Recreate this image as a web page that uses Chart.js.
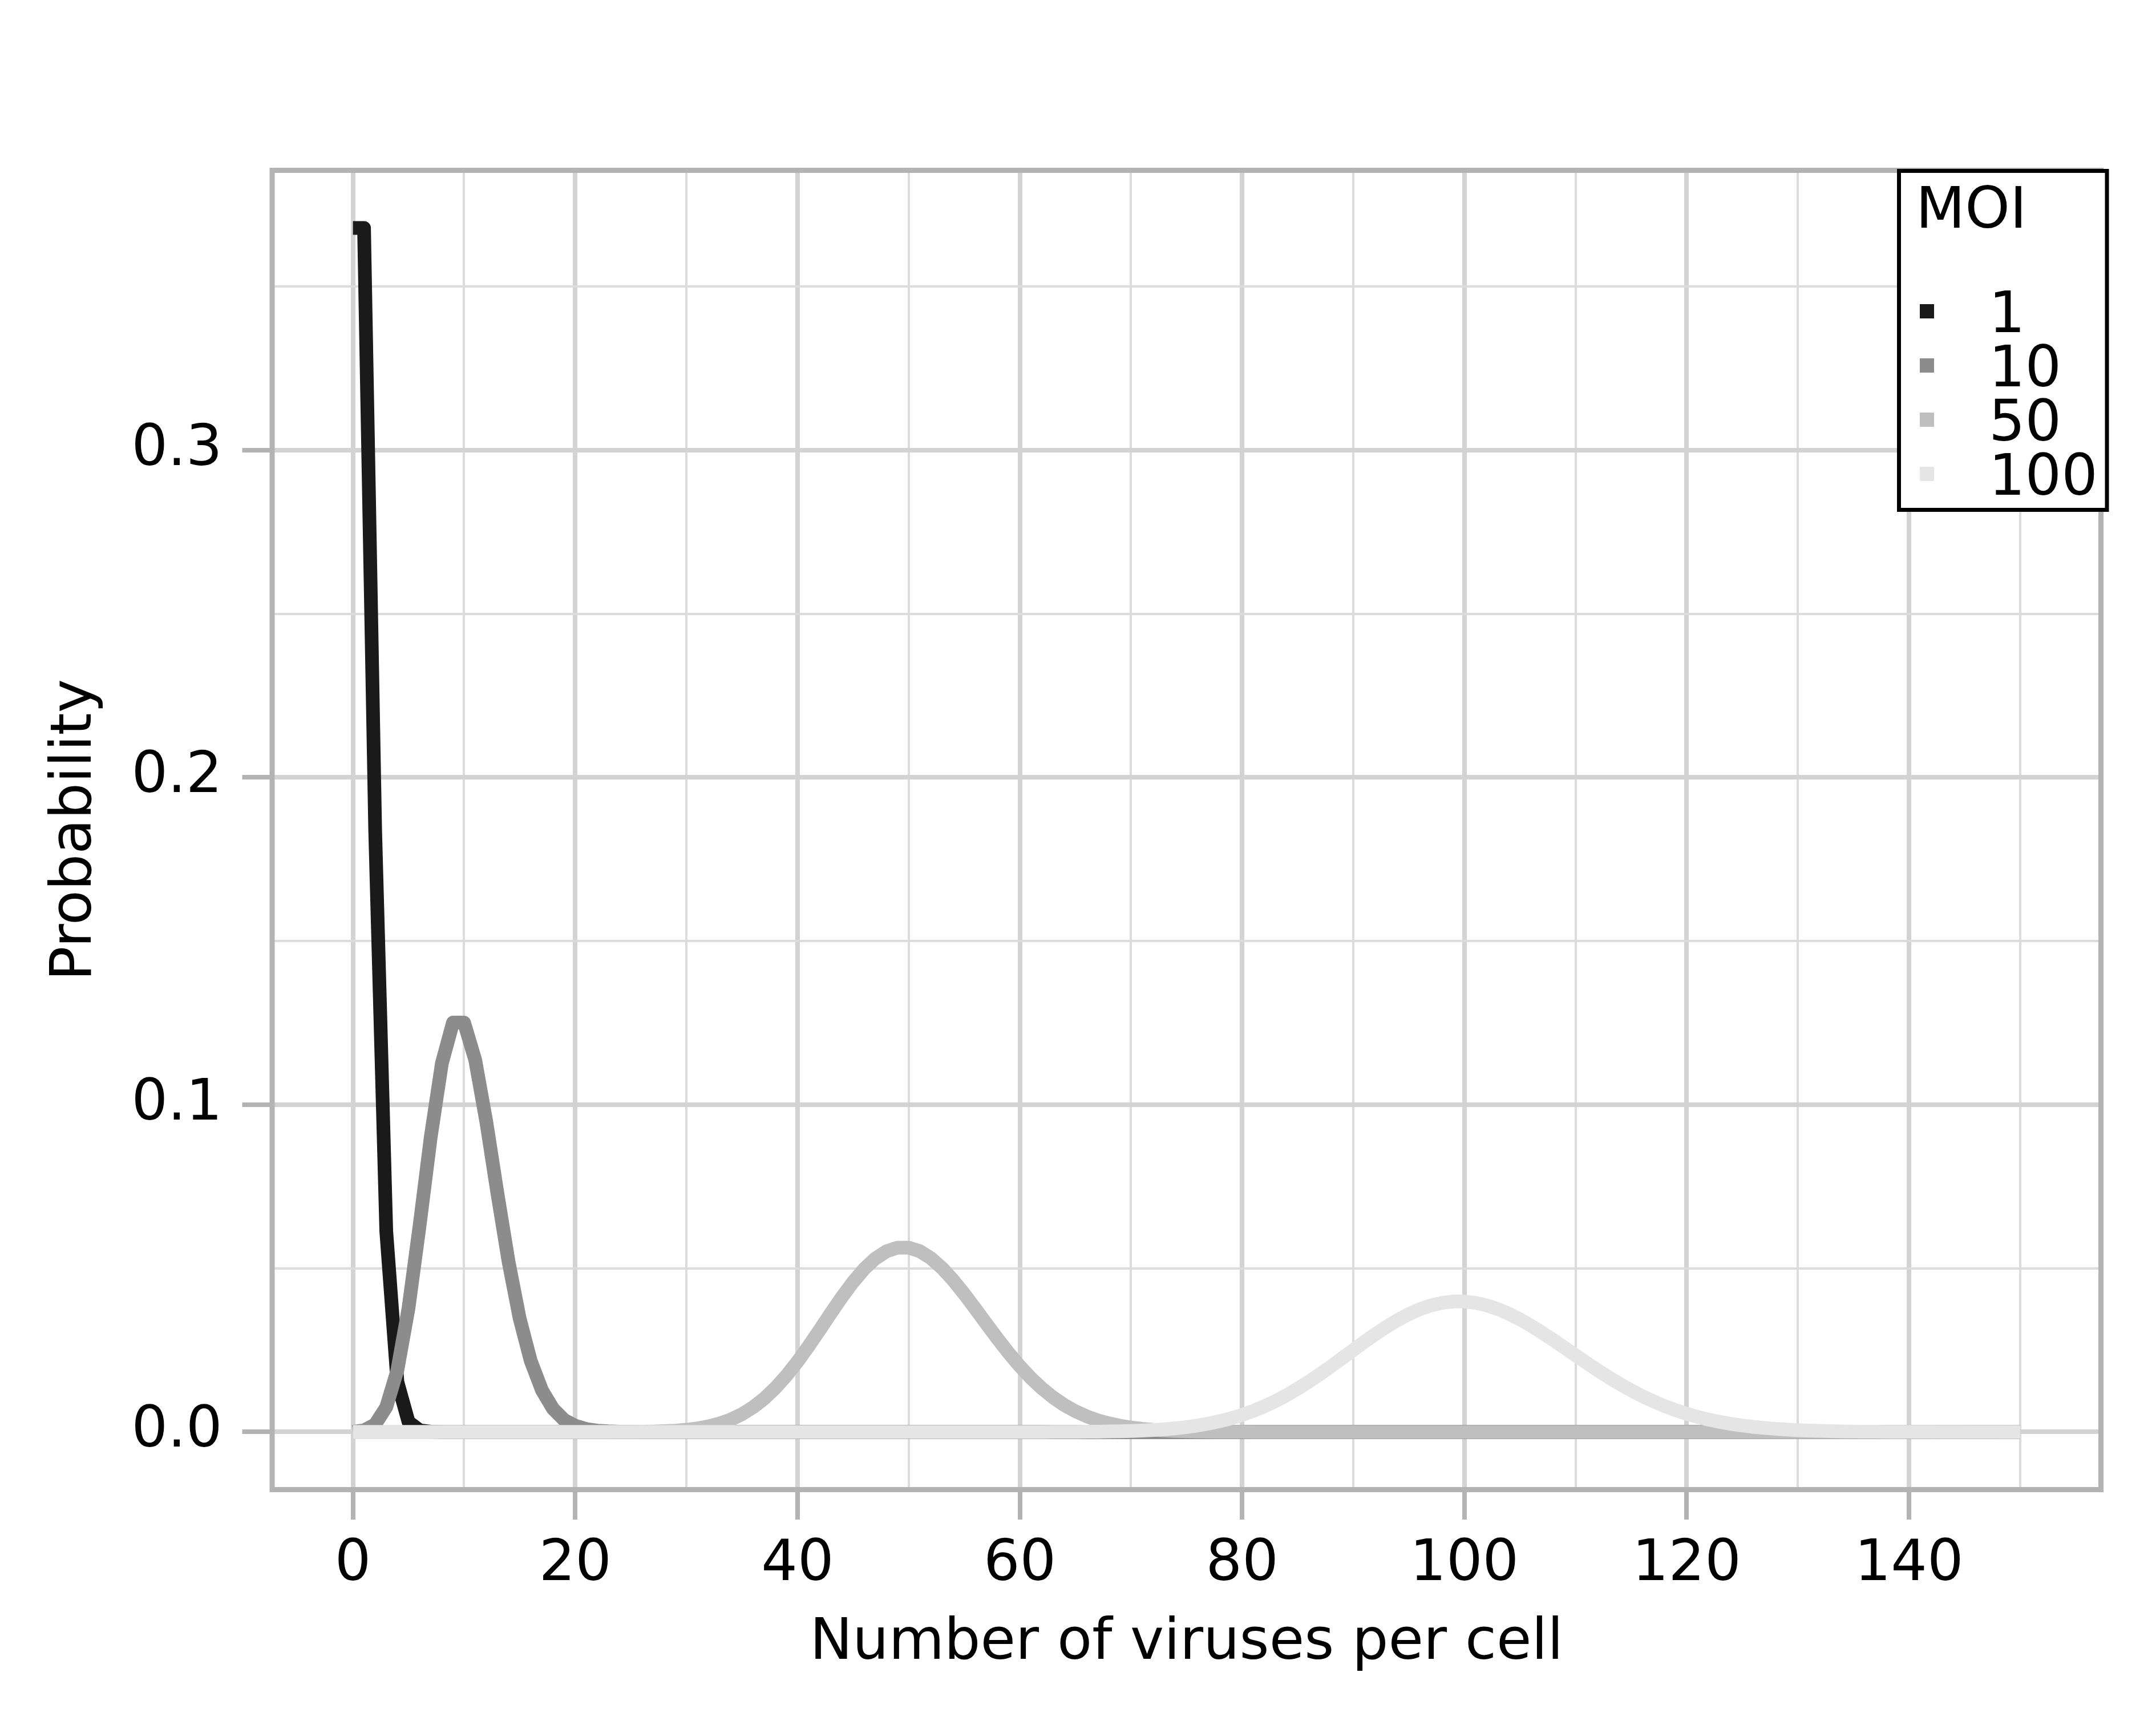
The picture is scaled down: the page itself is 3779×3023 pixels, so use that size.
<!DOCTYPE html>
<html>
<head>
<meta charset="utf-8">
<script src="https://cdn.jsdelivr.net/npm/chart.js@4.4.1/dist/chart.umd.min.js"></script>
<style>
  html, body { margin: 0; padding: 0; background: #ffffff; }
  #chart { display: block; }
</style>
</head>
<body>
<canvas id="chart" width="3779" height="3023"></canvas>
<script>
// MOI series (Poisson-like curves)
const moiLabels = ['1', '10', '50', '100'];
const moiColors = ['#1a1a1a', '#8c8c8c', '#bfbfbf', '#e5e5e5'];

const moi1X = [0, 1, 2, 3, 4, 5, 6, 7, 8, 150];
const moi1Y = [0.3679, 0.3679, 0.1839, 0.0613, 0.0153, 0.0031, 0.0005, 0.0001, 0, 0];

const moi10X = [0, 1, 2, 3, 4, 5, 6, 7, 8, 9, 10, 11, 12, 13, 14, 15, 16, 17, 18, 19, 20, 21, 22, 23, 24, 25, 150];
const moi10Y = [0.00005, 0.0005, 0.0023, 0.0076, 0.0189, 0.0378, 0.0631, 0.0901, 0.1126, 0.1251, 0.1251,
  0.1137, 0.0948, 0.0729, 0.0521, 0.0347, 0.0217, 0.0128, 0.0071, 0.0037, 0.0019,
  0.0009, 0.0004, 0.0002, 0.0001, 0, 0];

const moi50X = [0, 22, 23, 24, 25, 26, 27, 28, 29, 30, 31, 32, 33, 34, 35, 36, 37, 38, 39, 40,
  41, 42, 43, 44, 45, 46, 47, 48, 49, 50, 51, 52, 53, 54, 55, 56, 57, 58, 59, 60,
  61, 62, 63, 64, 65, 66, 67, 68, 69, 70, 71, 72, 73, 74, 75, 76, 77, 78, 79, 80, 81, 82, 150];
const moi50Y = [0, 0, 0.00001, 0.00002, 0.00004, 0.00007, 0.00013, 0.00024, 0.00041, 0.00068,
  0.00109, 0.00171, 0.00259, 0.00380, 0.00543, 0.00755, 0.01020, 0.01342, 0.01720, 0.02150,
  0.02622, 0.03122, 0.03630, 0.04125, 0.04583, 0.04981, 0.05299, 0.05520, 0.05633, 0.05633,
  0.05523, 0.05310, 0.05010, 0.04639, 0.04217, 0.03765, 0.03303, 0.02847, 0.02413, 0.02011,
  0.01648, 0.01329, 0.01055, 0.00824, 0.00634, 0.00480, 0.00358, 0.00264, 0.00191, 0.00136,
  0.00096, 0.00067, 0.00046, 0.00031, 0.00021, 0.00014, 0.00009, 0.00006, 0.00004, 0.00002,
  0.00001, 0, 0];

const moi100X = [0, 62, 63, 64, 65, 66, 67, 68, 69, 70, 71, 72, 73, 74, 75, 76, 77, 78, 79, 80,
  81, 82, 83, 84, 85, 86, 87, 88, 89, 90, 91, 92, 93, 94, 95, 96, 97, 98, 99, 100,
  101, 102, 103, 104, 105, 106, 107, 108, 109, 110, 111, 112, 113, 114, 115, 116, 117, 118, 119, 120,
  121, 122, 123, 124, 125, 126, 127, 128, 129, 130, 131, 132, 133, 134, 135, 136, 137, 138, 139, 140, 150];
const moi100Y = [0, 0, 0.00002, 0.00003, 0.00005, 0.00007, 0.00010, 0.00015, 0.00022, 0.00031,
  0.00044, 0.00061, 0.00083, 0.00112, 0.00150, 0.00197, 0.00256, 0.00329, 0.00416, 0.00520,
  0.00642, 0.00783, 0.00943, 0.01123, 0.01321, 0.01536, 0.01765, 0.02006, 0.02254, 0.02504,
  0.02752, 0.02991, 0.03216, 0.03421, 0.03601, 0.03751, 0.03867, 0.03946, 0.03986, 0.03986,
  0.03947, 0.03869, 0.03757, 0.03612, 0.03440, 0.03246, 0.03033, 0.02809, 0.02577, 0.02342,
  0.02110, 0.01884, 0.01667, 0.01463, 0.01272, 0.01096, 0.00937, 0.00794, 0.00667, 0.00556,
  0.00460, 0.00377, 0.00306, 0.00247, 0.00198, 0.00157, 0.00124, 0.00097, 0.00075, 0.00058,
  0.00044, 0.00033, 0.00025, 0.00019, 0.00014, 0.00010, 0.00007, 0.00005, 0.00004, 0.00003, 0];

// axis ticks
const xMajorTicks = [0, 20, 40, 60, 80, 100, 120, 140];
const xMinorTicks = [10, 30, 50, 70, 90, 110, 130, 150];
const yMajorTicks = [0, 0.1, 0.2, 0.3];
const yTickLabels = ['0.0', '0.1', '0.2', '0.3'];
const yMinorTicks = [0.05, 0.15, 0.25, 0.35];

const seriesX = [moi1X, moi10X, moi50X, moi100X];
const seriesY = [moi1Y, moi10Y, moi50Y, moi100Y];

function toPoints(xs, ys) {
  let pts = [];
  for (let i = 0; i < xs.length; i++) {
    pts.push({ x: xs[i], y: ys[i] });
  }
  return pts;
}

let datasets = [];
for (let i = 0; i < moiLabels.length; i++) {
  datasets.push({
    label: moiLabels[i],
    data: toPoints(seriesX[i], seriesY[i]),
    borderColor: moiColors[i],
    backgroundColor: moiColors[i],
    borderWidth: 24,
    borderCapStyle: 'butt',
    borderJoinStyle: 'round',
    pointRadius: 0,
    tension: 0,
    fill: false,
    order: moiLabels.length - i   // later series on top
  });
}

const majorGrid = '#d3d3d3';
const minorGrid = '#dcdcdc';
const frameColor = '#b3b3b3';

function isMajor(list, v) {
  return list.some(m => Math.abs(m - v) < 1e-9);
}

// panel border, drawn just inside the panel
const framePlugin = {
  id: 'frame',
  beforeDatasetsDraw(chart) {
    const { ctx, chartArea } = chart;
    const inset = 4.5;
    ctx.save();
    ctx.strokeStyle = frameColor;
    ctx.lineWidth = 9;
    ctx.strokeRect(chartArea.left + inset, chartArea.top + inset,
      chartArea.right - chartArea.left - 2 * inset, chartArea.bottom - chartArea.top - 2 * inset);
    ctx.restore();
  }
};

// legend box on top right
const legendPlugin = {
  id: 'moiLegend',
  afterDraw(chart) {
    const ctx = chart.ctx;
    const box = { left: 3328.5, top: 299.5, right: 3693, bottom: 893.5 };
    ctx.save();
    ctx.fillStyle = '#ffffff';
    ctx.fillRect(box.left, box.top, box.right - box.left, box.bottom - box.top);
    ctx.strokeStyle = '#000000';
    ctx.lineWidth = 7;
    ctx.strokeRect(box.left, box.top, box.right - box.left, box.bottom - box.top);

    ctx.fillStyle = '#000000';
    ctx.font = '100px "DejaVu Sans"';
    ctx.textBaseline = 'alphabetic';
    ctx.textAlign = 'left';
    ctx.fillText('MOI', 3358, 399);

    const baselines = [582, 677, 772, 867];
    chart.data.datasets.forEach(function(ds, i) {
      ctx.fillStyle = ds.borderColor;
      ctx.fillRect(3365, baselines[i] - 49, 25, 25);
      ctx.fillStyle = '#000000';
      ctx.fillText(ds.label, 3486, baselines[i]);
    });
    ctx.restore();
  }
};

Chart.defaults.font.family = '"DejaVu Sans"';
Chart.defaults.font.size = 100;
Chart.defaults.color = '#000000';

const ctx = document.getElementById('chart').getContext('2d');
const chart = new Chart(ctx, {
  type: 'line',
  data: { datasets: datasets },
  options: {
    responsive: false,
    animation: false,
    devicePixelRatio: 1,
    layout: { padding: { left: 0, top: 294, right: 92, bottom: 0 } },
    plugins: {
      legend: { display: false },
      tooltip: { enabled: false }
    },
    scales: {
      x: {
        type: 'linear',
        min: -7.5,
        max: 157.5,
        afterFit: function(scale) { scale.height = 408; },
        afterBuildTicks: function(scale) {
          scale.ticks = xMajorTicks.concat(xMinorTicks).sort((a, b) => a - b).map(v => ({ value: v }));
        },
        border: { display: false },
        grid: {
          drawTicks: true,
          tickLength: 48,
          color: c => isMajor(xMajorTicks, c.tick.value) ? majorGrid : minorGrid,
          lineWidth: c => isMajor(xMajorTicks, c.tick.value) ? 8 : 4,
          tickColor: c => isMajor(xMajorTicks, c.tick.value) ? frameColor : 'rgba(0,0,0,0)',
          tickWidth: 8
        },
        ticks: {
          autoSkip: false,
          maxRotation: 0,
          padding: 20,
          font: { size: 100 },
          color: '#000000',
          callback: v => isMajor(xMajorTicks, v) ? String(v) : ''
        },
        title: {
          display: true,
          text: 'Number of viruses per cell',
          font: { size: 100 },
          color: '#000000',
          padding: { top: 0, bottom: 82 }
        }
      },
      y: {
        type: 'linear',
        min: -0.0184,
        max: 0.3863,
        afterFit: function(scale) { scale.width = 472.5; },
        afterBuildTicks: function(scale) {
          scale.ticks = yMajorTicks.concat(yMinorTicks).sort((a, b) => a - b).map(v => ({ value: v }));
        },
        border: { display: false },
        grid: {
          drawTicks: true,
          tickLength: 48,
          color: c => isMajor(yMajorTicks, c.tick.value) ? majorGrid : minorGrid,
          lineWidth: c => isMajor(yMajorTicks, c.tick.value) ? 8 : 4,
          tickColor: c => isMajor(yMajorTicks, c.tick.value) ? frameColor : 'rgba(0,0,0,0)',
          tickWidth: 8
        },
        ticks: {
          autoSkip: false,
          padding: 35,
          font: { size: 100 },
          color: '#000000',
          callback: function(v) {
            const k = yMajorTicks.findIndex(m => Math.abs(m - v) < 1e-9);
            return k >= 0 ? yTickLabels[k] : '';
          }
        },
        title: {
          display: true,
          text: 'Probability',
          font: { size: 100 },
          color: '#000000',
          padding: { top: 73, bottom: 0 }
        }
      }
    }
  },
  plugins: [framePlugin, legendPlugin]
});
</script>
</body>
</html>
